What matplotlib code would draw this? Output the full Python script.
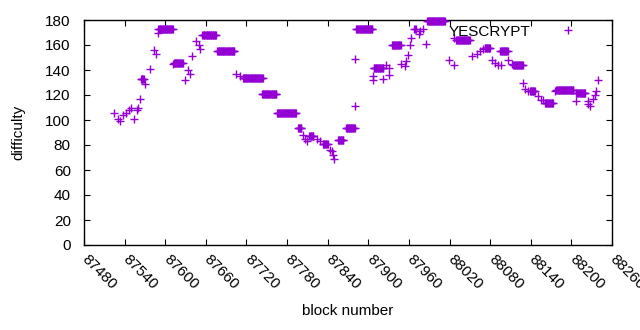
import numpy as np
import matplotlib
matplotlib.use('Agg')
import matplotlib.pyplot as plt
import matplotlib.transforms as mtransforms

plt.rcParams['font.family'] = ['Liberation Sans', 'DejaVu Sans']

# runs of blocks sharing one difficulty: first block, last block, difficulty
run_start = [87564, 87590, 87613, 87655, 87678, 87715, 87743, 87765, 87796,
             87813, 87833, 87855, 87867, 87882, 87908, 87935, 87968, 87987,
             88030, 88072, 88095, 88114, 88139, 88161, 88178, 88207]
run_end = [87568, 87611, 87626, 87675, 87702, 87744, 87764, 87793, 87801,
           87819, 87840, 87863, 87880, 87906, 87922, 87948, 87970, 88013,
           88050, 88080, 88106, 88128, 88146, 88173, 88203, 88220]
run_diff = [133, 173, 146, 168, 155, 134, 121, 106, 94,
            87, 81, 84, 94, 173, 142, 160, 173, 179,
            164, 158, 155, 144, 123, 114, 124, 122]

# single blocks
one_block = [87525, 87530, 87533, 87537, 87542, 87546, 87549, 87554, 87558,
             87560, 87562, 87570, 87577, 87583, 87586, 87589, 87612, 87629,
             87633, 87637, 87640, 87646, 87650, 87651, 87677, 87704, 87710,
             87804, 87806, 87809, 87824, 87828, 87844, 87847, 87848, 87850,
             87881, 87881, 87907, 87907, 87922, 87926, 87931, 87931, 87949,
             87954, 87956, 87958, 87961, 87963, 87975, 87977, 87981, 87985,
             88019, 88026, 88027, 88053, 88060, 88065, 88070, 88082, 88087,
             88092, 88096, 88107, 88112, 88129, 88131, 88136, 88150, 88155,
             88158, 88176, 88207, 88224, 88225, 88227, 88232, 88235, 88237,
             88240]
one_diff = [106, 101, 99, 104, 106, 108, 110, 101, 108,
            110, 117, 129, 141, 156, 153, 170, 145, 132,
            140, 137, 151, 163, 160, 157, 155, 137, 135,
            88, 85, 83, 85, 83, 76, 75, 72, 69,
            111, 149, 135, 132, 133, 144, 142, 136, 145,
            143, 147, 152, 160, 166, 169, 171, 173, 161,
            148, 144, 166, 151, 153, 155, 157, 148, 146,
            144, 144, 148, 145, 130, 125, 123, 119, 116,
            116, 123, 115, 115, 113, 111, 117, 120, 123,
            132]

blocks = list(one_block)
diffs = list(one_diff)
for s, e, d in zip(run_start, run_end, run_diff):
    for b in range(s, e + 1):
        blocks.append(b)
        diffs.append(d)

purple = '#9400D3'
fs = 11

fig = plt.figure(figsize=(6.4, 3.3), dpi=100)
ax = fig.add_axes([84/640, 1 - 245/330, 528/640, 225/330])

ax.plot(blocks, diffs, '+', color=purple, markersize=5.5, mew=1.0,
        linestyle='none', label='YESCRYPT', clip_on=False, zorder=3)

ax.set_xlim(87480, 88260)
ax.set_ylim(0, 180)
ax.set_xticks(np.arange(87480, 88261, 60))
ax.set_yticks(np.arange(0, 181, 20))
ax.tick_params(direction='in', top=True, right=True, length=4, width=0.8,
               labelsize=fs, colors='black')
ax.tick_params(axis='y', pad=9.5)
ax.tick_params(axis='x', pad=5)

# gnuplot style rotated labels, nudged right
shift = mtransforms.ScaledTranslation(4/72, 0, fig.dpi_scale_trans)
for lab in ax.get_xticklabels():
    lab.set_rotation(-45)
    lab.set_ha('left')
    lab.set_va('top')
    lab.set_rotation_mode('anchor')
    lab.set_transform(lab.get_transform() + shift)

for sp in ax.spines.values():
    sp.set_linewidth(1.0)

ax.set_xlabel('block number', fontsize=fs, labelpad=9)
ax.set_ylabel('difficulty', fontsize=fs, labelpad=14)

ax.legend(loc='upper right', bbox_to_anchor=(0.97, 1.02), frameon=False,
          markerfirst=False, fontsize=fs, handlelength=2.5,
          handletextpad=1.2, borderaxespad=0.2)

fig.savefig('out.png', dpi=100)
